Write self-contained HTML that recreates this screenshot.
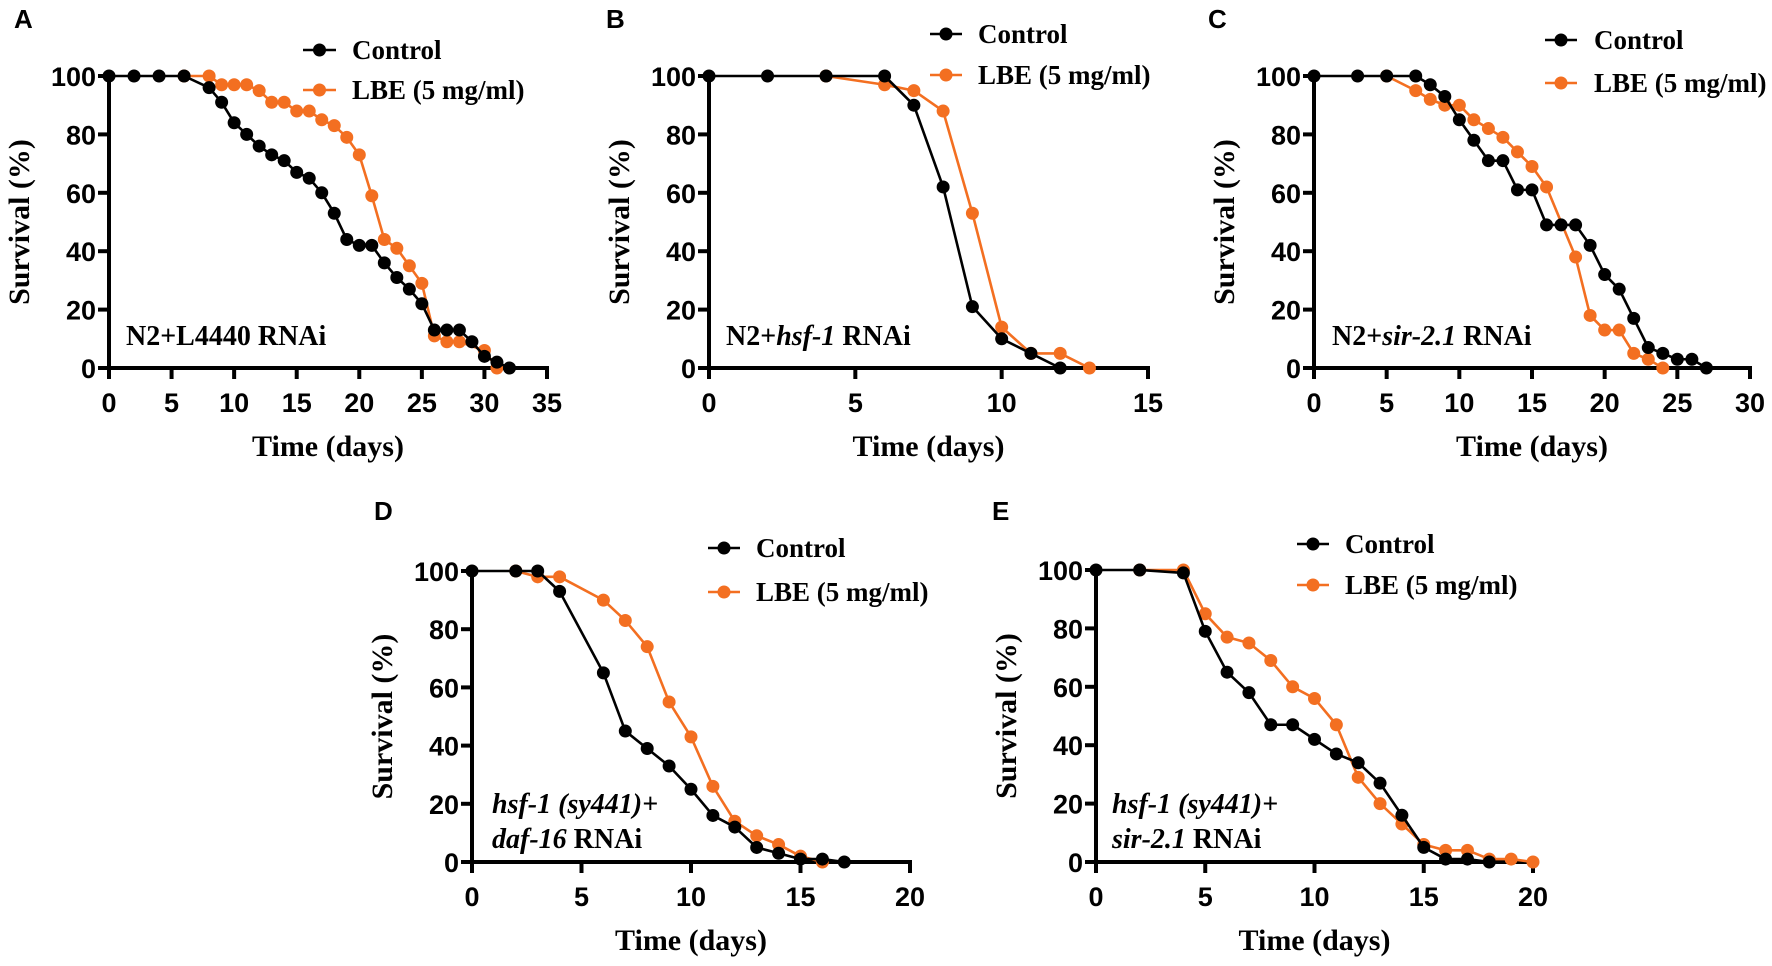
<!DOCTYPE html>
<html><head><meta charset="utf-8"><style>
body{margin:0;background:#fff;}
svg{display:block;}
.tick{font-family:"Liberation Sans",Arial,sans-serif;font-weight:bold;font-size:27px;}
.ser{font-family:"Liberation Serif","Times New Roman",serif;font-weight:bold;}
</style></head><body>
<svg id="fig" width="1772" height="966" viewBox="0 0 1772 966" xmlns="http://www.w3.org/2000/svg"></svg>
<script>
// Panel A
const aCtrlX=[0,2,4,6,8,9,10,11,12,13,14,15,16,17,18,19,20,21,22,23,24,25,26,27,28,29,30,31,32];
const aCtrlY=[100,100,100,100,96,91,84,80,76,73,71,67,65,60,53,44,42,42,36,31,27,22,13,13,13,9,4,2,0];
const aLbeX=[6,8,9,10,11,12,13,14,15,16,17,18,19,20,21,22,23,24,25,26,27,28,30,31];
const aLbeY=[100,100,97,97,97,95,91,91,88,88,85,83,79,73,59,44,41,35,29,11,9,9,6,0];
const aTicksX=[0,5,10,15,20,25,30,35];
// Panel B
const bCtrlX=[0,2,4,6,7,8,9,10,11,12];
const bCtrlY=[100,100,100,100,90,62,21,10,5,0];
const bLbeX=[4,6,7,8,9,10,11,12,13];
const bLbeY=[100,97,95,88,53,14,5,5,0];
const bTicksX=[0,5,10,15];
// Panel C
const cCtrlX=[0,3,5,7,8,9,10,11,12,13,14,15,16,17,18,19,20,21,22,23,24,25,26,27];
const cCtrlY=[100,100,100,100,97,93,85,78,71,71,61,61,49,49,49,42,32,27,17,7,5,3,3,0];
const cLbeX=[5,7,8,9,10,11,12,13,14,15,16,18,19,20,21,22,23,24];
const cLbeY=[100,95,92,90,90,85,82,79,74,69,62,38,18,13,13,5,3,0];
const cTicksX=[0,5,10,15,20,25,30];
// Panel D
const dCtrlX=[0,2,3,4,6,7,8,9,10,11,12,13,14,15,16,17];
const dCtrlY=[100,100,100,93,65,45,39,33,25,16,12,5,3,1,1,0];
const dLbeX=[2,3,4,6,7,8,9,10,11,12,13,14,15,16];
const dLbeY=[100,98,98,90,83,74,55,43,26,14,9,6,2,0];
const dTicksX=[0,5,10,15,20];
// Panel E
const eCtrlX=[0,2,4,5,6,7,8,9,10,11,12,13,14,15,16,17,18];
const eCtrlY=[100,100,99,79,65,58,47,47,42,37,34,27,16,5,1,1,0];
const eLbeX=[2,4,5,6,7,8,9,10,11,12,13,14,15,16,17,18,19,20];
const eLbeY=[100,100,85,77,75,69,60,56,47,29,20,13,6,4,4,1,1,0];
const eTicksX=[0,5,10,15,20];
const yTicks=[0,20,40,60,80,100];

const NS="http://www.w3.org/2000/svg";
const svg=document.getElementById('fig');
const ORANGE="#f36f21";
function mk(tag,attrs,parent){const e=document.createElementNS(NS,tag);for(const k in attrs)e.setAttribute(k,attrs[k]);(parent||svg).appendChild(e);return e;}

const panels=[
 {id:'a',letter:'A',lx:14,ly:28,x0:109,x1:547,xmax:35,y0:368,y1:76,ticks:aTicksX,cx:aCtrlX,cy:aCtrlY,lbx:aLbeX,lby:aLbeY,
  leg:{l0:303,l1:336,yc:50,yl:90,tx:352},ann:[{x:126,y:345,parts:[['N2+L4440 RNAi',false]]}]},
 {id:'b',letter:'B',lx:606,ly:28,x0:709,x1:1148,xmax:15,y0:368,y1:76,ticks:bTicksX,cx:bCtrlX,cy:bCtrlY,lbx:bLbeX,lby:bLbeY,
  leg:{l0:930,l1:962,yc:34,yl:75,tx:978},ann:[{x:726,y:345,parts:[['N2+',false],['hsf-1',true],[' RNAi',false]]}]},
 {id:'c',letter:'C',lx:1208,ly:28,x0:1314,x1:1750,xmax:30,y0:368,y1:76,ticks:cTicksX,cx:cCtrlX,cy:cCtrlY,lbx:cLbeX,lby:cLbeY,
  leg:{l0:1545,l1:1577,yc:40,yl:83,tx:1594},ann:[{x:1332,y:345,parts:[['N2+',false],['sir-2.1',true],[' RNAi',false]]}]},
 {id:'d',letter:'D',lx:374,ly:520,x0:472,x1:910,xmax:20,y0:862,y1:571,ticks:dTicksX,cx:dCtrlX,cy:dCtrlY,lbx:dLbeX,lby:dLbeY,
  leg:{l0:708,l1:740,yc:548,yl:592,tx:756},ann:[{x:492,y:813,parts:[['hsf-1 (sy441)+',true]]},{x:492,y:848,parts:[['daf-16',true],[' RNAi',false]]}]},
 {id:'e',letter:'E',lx:992,ly:520,x0:1096,x1:1533,xmax:20,y0:862,y1:570,ticks:eTicksX,cx:eCtrlX,cy:eCtrlY,lbx:eLbeX,lby:eLbeY,
  leg:{l0:1297,l1:1329,yc:544,yl:585,tx:1345},ann:[{x:1112,y:813,parts:[['hsf-1 (sy441)+',true]]},{x:1112,y:848,parts:[['sir-2.1',true],[' RNAi',false]]}]}
];

panels.forEach(p=>{
  const g=mk('g',{});
  
  
  const sx=v=>p.x0+(p.x1-p.x0)*v/p.xmax;
  const sy=v=>p.y0+(p.y1-p.y0)*v/100;
  const L=mk('text',{x:p.lx,y:p.ly,'font-family':'Liberation Sans, sans-serif','font-weight':'bold','font-size':'26'},g);
  L.textContent=p.letter;
  
  
  const ax=mk('path',{d:`M${p.x0},${sy(100)-2} L${p.x0},${p.y0} L${p.x1+2},${p.y0}`,stroke:'#000','stroke-width':4,fill:'none'},g);
  
  
  yTicks.forEach(t=>{
    const y=sy(t);
    const tk=mk('line',{x1:p.x0-11,x2:p.x0,y1:y,y2:y,stroke:'#000','stroke-width':4},g);
    
    
    const tl=mk('text',{x:p.x0-13,y:y+10,'text-anchor':'end',class:'tick'},g);
    tl.textContent=t;
    
    
  });
  p.ticks.forEach(t=>{
    const x=sx(t);
    const tk=mk('line',{x1:x,x2:x,y1:p.y0,y2:p.y0+11,stroke:'#000','stroke-width':4},g);
    
    
    const tl=mk('text',{x:x,y:p.y0+44,'text-anchor':'middle',class:'tick'},g);
    tl.textContent=t;
    
    
  });
  const xt=mk('text',{x:(p.x0+p.x1)/2,y:p.y0+88,'text-anchor':'middle',class:'ser','font-size':'30'},g);
  xt.textContent='Time (days)';
  
  
  const ym=(p.y0+sy(100))/2;
  const ytx=p.x0-80;
  const yt=mk('text',{x:ytx,y:ym,'text-anchor':'middle',class:'ser','font-size':'30',transform:`rotate(-90 ${ytx} ${ym})`},g);
  yt.textContent='Survival (%)';
  
  
  function series(xs,ys,color,name){
    const pts=xs.map((v,i)=>sx(v)+','+sy(ys[i])).join(' ');
    const pl=mk('polyline',{points:pts,fill:'none',stroke:color,'stroke-width':2.6,'stroke-linejoin':'round'},g);
    
    
    xs.forEach((v,i)=>{
      const c=mk('circle',{cx:sx(v),cy:sy(ys[i]),r:6.5,fill:color},g);
      
      
    });
  }
  series(p.lbx,p.lby,ORANGE,'lbe');
  series(p.cx,p.cy,'#000','control');
  p.ann.forEach(a=>{
    const t=mk('text',{x:a.x,y:a.y,class:'ser','font-size':'28'},g);
    
    
    a.parts.forEach(pt=>{const s=mk('tspan',{},t);if(pt[1])s.setAttribute('font-style','italic');s.textContent=pt[0];});
  });
  const lg=p.leg;
  [[lg.yc,'#000','Control','legend-control'],[lg.yl,ORANGE,'LBE (5 mg/ml)','legend-lbe']].forEach(e=>{
    const gg=mk('g',{},g);
    
    
    mk('line',{x1:lg.l0,x2:lg.l1,y1:e[0],y2:e[0],stroke:e[1],'stroke-width':2.6},gg);
    mk('circle',{cx:(lg.l0+lg.l1)/2,cy:e[0],r:6.5,fill:e[1]},gg);
    const t=mk('text',{x:lg.tx,y:e[0]+9,class:'ser','font-size':'27'},gg);
    t.textContent=e[2];
  });
});
</script>
</body></html>
